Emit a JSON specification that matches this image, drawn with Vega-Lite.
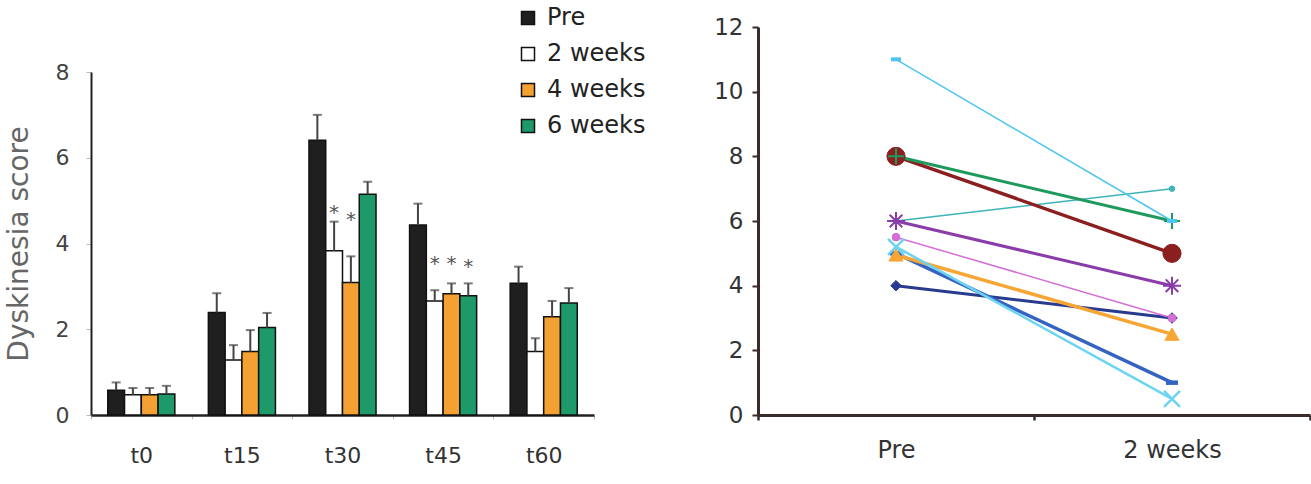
{
  "$schema": "https://vega.github.io/schema/vega-lite/v6.json",
  "padding": {"left": 5, "top": 6, "right": 0, "bottom": 0},
  "spacing": 67,
  "config": {"font": "DejaVu Sans", "view": {"stroke": null}},
  "resolve": {
    "scale": {"fill": "independent", "stroke": "independent", "color": "independent", "strokeWidth": "independent", "shape": "independent", "size": "independent"},
    "legend": {"fill": "independent"}
  },
  "datasets": {
    "bars": [
      {"time": "t0", "group": "Pre", "value": 0.58, "upper": 0.76},
      {"time": "t0", "group": "2 weeks", "value": 0.47, "upper": 0.63},
      {"time": "t0", "group": "4 weeks", "value": 0.47, "upper": 0.63},
      {"time": "t0", "group": "6 weeks", "value": 0.49, "upper": 0.68},
      {"time": "t15", "group": "Pre", "value": 2.39, "upper": 2.84},
      {"time": "t15", "group": "2 weeks", "value": 1.28, "upper": 1.63},
      {"time": "t15", "group": "4 weeks", "value": 1.48, "upper": 1.98},
      {"time": "t15", "group": "6 weeks", "value": 2.04, "upper": 2.38},
      {"time": "t30", "group": "Pre", "value": 6.41, "upper": 7.0},
      {"time": "t30", "group": "2 weeks", "value": 3.83, "upper": 4.51},
      {"time": "t30", "group": "4 weeks", "value": 3.09, "upper": 3.7},
      {"time": "t30", "group": "6 weeks", "value": 5.15, "upper": 5.44},
      {"time": "t45", "group": "Pre", "value": 4.43, "upper": 4.93},
      {"time": "t45", "group": "2 weeks", "value": 2.66, "upper": 2.91},
      {"time": "t45", "group": "4 weeks", "value": 2.83, "upper": 3.07},
      {"time": "t45", "group": "6 weeks", "value": 2.78, "upper": 3.07},
      {"time": "t60", "group": "Pre", "value": 3.07, "upper": 3.46},
      {"time": "t60", "group": "2 weeks", "value": 1.48, "upper": 1.79},
      {"time": "t60", "group": "4 weeks", "value": 2.29, "upper": 2.66},
      {"time": "t60", "group": "6 weeks", "value": 2.61, "upper": 2.96}
    ],
    "stars": [
      {"time": "t30", "group": "2 weeks", "y": 4.84, "label": "*"},
      {"time": "t30", "group": "4 weeks", "y": 4.68, "label": "*"},
      {"time": "t45", "group": "2 weeks", "y": 3.67, "label": "*"},
      {"time": "t45", "group": "4 weeks", "y": 3.67, "label": "*"},
      {"time": "t45", "group": "6 weeks", "y": 3.6, "label": "*"}
    ],
    "subjects": [
      {"subject": "S10", "time": "Pre", "score": 4},
      {"subject": "S10", "time": "2 weeks", "score": 3},
      {"subject": "S9", "time": "Pre", "score": 5},
      {"subject": "S9", "time": "2 weeks", "score": 1},
      {"subject": "S8", "time": "Pre", "score": 4.95},
      {"subject": "S8", "time": "2 weeks", "score": 2.5},
      {"subject": "S7", "time": "Pre", "score": 5.2},
      {"subject": "S7", "time": "2 weeks", "score": 0.5},
      {"subject": "S6", "time": "Pre", "score": 5.5},
      {"subject": "S6", "time": "2 weeks", "score": 3},
      {"subject": "S4", "time": "Pre", "score": 6},
      {"subject": "S4", "time": "2 weeks", "score": 7},
      {"subject": "S5", "time": "Pre", "score": 6},
      {"subject": "S5", "time": "2 weeks", "score": 4},
      {"subject": "S3", "time": "Pre", "score": 8},
      {"subject": "S3", "time": "2 weeks", "score": 5},
      {"subject": "S2", "time": "Pre", "score": 8},
      {"subject": "S2", "time": "2 weeks", "score": 6},
      {"subject": "S1", "time": "Pre", "score": 11},
      {"subject": "S1", "time": "2 weeks", "score": 6}
    ]
  },
  "hconcat": [
    {
      "width": 503,
      "height": 388,
      "data": {"name": "bars"},
      "encoding": {
        "x": {
          "field": "time", "type": "nominal",
          "sort": ["t0", "t15", "t30", "t45", "t60"],
          "scale": {"paddingInner": 0, "paddingOuter": 0},
          "axis": {"title": null, "labelAngle": 0, "tickBand": "extent", "domainColor": "#222", "domainWidth": 2.5, "tickColor": "#bbb", "tickSize": 4, "labelFontSize": 22, "labelColor": "#333", "labelPadding": 26}
        },
        "xOffset": {
          "field": "group", "type": "nominal",
          "sort": ["Pre", "2 weeks", "4 weeks", "6 weeks"],
          "scale": {"domain": ["Pre", "2 weeks", "4 weeks", "6 weeks"], "paddingInner": 0, "paddingOuter": 1}
        }
      },
      "layer": [
        {
          "mark": {"type": "bar", "stroke": "#111", "strokeWidth": 1.5},
          "encoding": {
            "y": {
              "field": "value", "type": "quantitative",
              "scale": {"domain": [0, 8], "nice": false, "range": [388, 45]},
              "axis": {"title": "Dyskinesia score", "titleFontSize": 28, "titleFontWeight": "normal", "titleColor": "#666", "titlePadding": 22, "values": [0, 2, 4, 6, 8], "grid": false, "domainColor": "#222", "domainWidth": 2, "tickColor": "#bbb", "tickSize": 5, "labelPadding": 17, "labelFontSize": 22, "labelColor": "#444"}
            },
            "fill": {
              "field": "group", "type": "nominal",
              "scale": {"domain": ["Pre", "2 weeks", "4 weeks", "6 weeks"], "range": ["#1f1f1f", "#ffffff", "#f5a033", "#1e9a6a"]},
              "legend": {"title": null, "orient": "none", "legendX": 425, "legendY": -21, "symbolType": "square", "symbolSize": 169, "symbolStrokeColor": "#111", "symbolStrokeWidth": 1.5, "labelFontSize": 24, "labelColor": "#222", "rowPadding": 12, "labelOffset": 7}
            }
          }
        },
        {
          "mark": {"type": "rule", "color": "#444", "strokeWidth": 2},
          "encoding": {
            "y": {"field": "value", "type": "quantitative"},
            "y2": {"field": "upper"}
          }
        },
        {
          "mark": {"type": "tick", "color": "#444", "thickness": 2, "size": 9},
          "encoding": {
            "y": {"field": "upper", "type": "quantitative"}
          }
        },
        {
          "data": {"name": "stars"},
          "mark": {"type": "text", "fontSize": 20, "color": "#555", "baseline": "alphabetic", "dy": 12},
          "encoding": {
            "y": {"field": "y", "type": "quantitative"},
            "text": {"field": "label"}
          }
        }
      ]
    },
    {
      "width": 552,
      "height": 388,
      "data": {"name": "subjects"},
      "encoding": {
        "x": {
          "field": "time", "type": "nominal",
          "sort": ["Pre", "2 weeks"],
          "scale": {"paddingInner": 0, "paddingOuter": 0},
          "axis": {"title": null, "labelAngle": 0, "tickBand": "extent", "domainColor": "#3a2a2a", "domainWidth": 3, "tickColor": "#3a2a2a", "tickWidth": 2.5, "tickSize": 5, "labelFontSize": 24, "labelColor": "#333", "labelPadding": 18}
        },
        "y": {
          "field": "score", "type": "quantitative",
          "scale": {"domain": [0, 12], "nice": false},
          "axis": {"title": null, "values": [0, 2, 4, 6, 8, 10, 12], "grid": false, "domainColor": "#3a2a2a", "domainWidth": 3, "tickColor": "#3a2a2a", "tickWidth": 2, "tickSize": 6, "labelFontSize": 23, "labelColor": "#333", "labelPadding": 9}
        }
      },
      "layer": [
        {
          "mark": {"type": "line"},
          "encoding": {
            "color": {
              "field": "subject", "type": "nominal", "legend": null,
              "scale": {"domain": ["S1", "S2", "S3", "S4", "S5", "S6", "S7", "S8", "S9", "S10"], "range": ["#4dc6f0", "#1e9a5e", "#8b1f1f", "#3cb4b8", "#8a3daa", "#d36fd6", "#6cd4f2", "#f7a533", "#3563c2", "#283b8e"]}
            },
            "strokeWidth": {
              "field": "subject", "type": "nominal", "legend": null,
              "scale": {"type": "ordinal", "domain": ["S1", "S2", "S3", "S4", "S5", "S6", "S7", "S8", "S9", "S10"], "range": [1.5, 3, 3.5, 1.5, 3, 1.5, 2.5, 3.5, 3.5, 3]}
            }
          }
        },
        {
          "mark": {"type": "point", "filled": true, "opacity": 1},
          "encoding": {
            "shape": {
              "field": "subject", "type": "nominal", "legend": null,
              "scale": {"domain": ["S1", "S2", "S3", "S4", "S5", "S6", "S7", "S8", "S9", "S10"], "range": ["M-1,0L1,0", "M-1,0L1,0M0,-1L0,1", "circle", "circle", "M-1,0L1,0M0,-1L0,1M-0.7,-0.7L0.7,0.7M-0.7,0.7L0.7,-0.7", "circle", "M-1,-1L1,1M-1,1L1,-1", "triangle-up", "M-1,0L1,0", "diamond"]}
            },
            "size": {
              "field": "subject", "type": "nominal", "legend": null,
              "scale": {"type": "ordinal", "domain": ["S1", "S2", "S3", "S4", "S5", "S6", "S7", "S8", "S9", "S10"], "range": [100, 256, 330, 30, 324, 60, 256, 200, 144, 110]}
            },
            "fill": {
              "field": "subject", "type": "nominal", "legend": null,
              "scale": {"domain": ["S1", "S2", "S3", "S4", "S5", "S6", "S7", "S8", "S9", "S10"], "range": ["#4dc6f0", "#1e9a5e", "#8b1f1f", "#3cb4b8", "#8a3daa", "#d36fd6", "#6cd4f2", "#f7a533", "#3563c2", "#283b8e"]}
            },
            "stroke": {
              "field": "subject", "type": "nominal", "legend": null,
              "scale": {"domain": ["S1", "S2", "S3", "S4", "S5", "S6", "S7", "S8", "S9", "S10"], "range": ["#4dc6f0", "#1e9a5e", "#8b1f1f", "#3cb4b8", "#8a3daa", "#d36fd6", "#6cd4f2", "#f7a533", "#3563c2", "#283b8e"]}
            },
            "strokeWidth": {
              "field": "subject", "type": "nominal", "legend": null,
              "scale": {"type": "ordinal", "domain": ["S1", "S2", "S3", "S4", "S5", "S6", "S7", "S8", "S9", "S10"], "range": [4, 2, 1, 1, 2, 1, 2.5, 1, 4.5, 1]}
            }
          }
        }
      ],
      "resolve": {"scale": {"strokeWidth": "independent"}}
    }
  ]
}
